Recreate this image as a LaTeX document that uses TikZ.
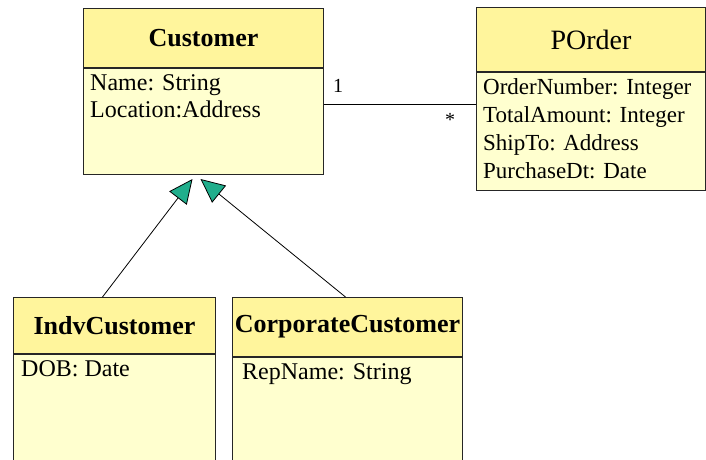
\documentclass[tikz,border=0pt]{standalone}
\usepackage{fontspec}
\setmainfont{Liberation Serif}
\usetikzlibrary{arrows.meta}
\definecolor{headyellow}{HTML}{FFF59C}
\definecolor{bodyyellow}{HTML}{FFFFCF}
\definecolor{isagreen}{HTML}{20AE8C}
\tikzset{
  classhead/.style={draw=black!85,line width=1pt,fill=headyellow,anchor=north west,inner sep=0pt,font=\fontsize{26}{30}\selectfont\bfseries},
  classbody/.style={draw=black!85,line width=1pt,fill=bodyyellow,anchor=north west,inner sep=0pt},
  attrs/.style={anchor=north west,align=left,inner xsep=7pt,inner ysep=6pt,font=\fontsize{24}{27}\selectfont},
  mult/.style={inner sep=0pt,font=\fontsize{20}{24}\selectfont},
  isa/.style={line width=0.8pt,-{Triangle[length=24pt,width=22pt,fill=isagreen]}}
}
\begin{document}
\begin{tikzpicture}[x=1pt,y=-1pt]
\clip (0,0) rectangle (706,459);
\fill[white] (0,0) rectangle (706,459);
% classes
\node[classhead,minimum width=240pt,minimum height=59pt] (custhead) at (83,8) {Customer};
\node[classbody,minimum width=240pt,minimum height=106pt] (custbody) at (custhead.south west) {};
\node[attrs] (custattr) at (custbody.north west) {Name: String\\Location:Address};
\node[classhead,minimum width=229pt,minimum height=64pt,font=\fontsize{28}{32}\selectfont] (orderhead) at (476,7) {POrder};
\node[classbody,minimum width=229pt,minimum height=118pt] (orderbody) at (orderhead.south west) {};
\node[attrs,font=\fontsize{23}{28}\selectfont] (orderattr) at (orderbody.north west) {OrderNumber: Integer\\TotalAmount: Integer\\ShipTo: Address\\PurchaseDt: Date};
\node[classhead,minimum width=202pt,minimum height=56pt] (indvhead) at (13,297) {IndvCustomer};
\node[classbody,minimum width=202pt,minimum height=200pt] (indvbody) at (indvhead.south west) {};
\node[attrs,inner xsep=8pt] (indvattr) at (indvbody.north west) {DOB: Date};
\node[classhead,minimum width=230pt,minimum height=59pt] (corphead) at (232,297) {CorporateCustomer};
\node[classbody,minimum width=230pt,minimum height=200pt] (corpbody) at (corphead.south west) {};
\node[attrs,inner xsep=10pt] (corpattr) at (corpbody.north west) {RepName: String};
% association
\draw[line width=0.8pt] ([yshift=17pt]custbody.east) -- ([yshift=17pt]custbody.east -| orderbody.west);
\node[mult] (one) at (338,86) {1};
\node[mult] (many) at (450,120) {*};
% generalization
\draw[isa] ([xshift=-12pt]indvhead.north) -- ([xshift=-11pt,yshift=-4pt]custbody.south);
\draw[isa] ([xshift=-2pt]corphead.north) -- ([xshift=-3pt,yshift=-4pt]custbody.south);
\end{tikzpicture}
\end{document}
